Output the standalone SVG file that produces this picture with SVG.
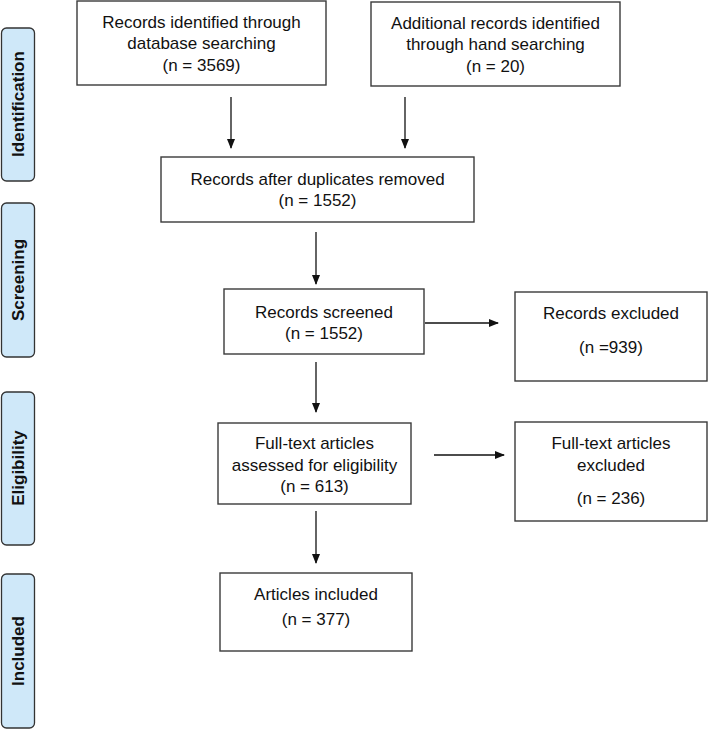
<svg xmlns="http://www.w3.org/2000/svg" width="708" height="729" viewBox="0 0 708 729">
<style>
.box{fill:#fff;stroke:#3a3a3a;stroke-width:1.4}
.side{fill:#cfe8f9;stroke:#333;stroke-width:1.3}
.t{font-family:"Liberation Sans",Arial,sans-serif;font-size:17px;fill:#111;text-anchor:middle}
.s{font-family:"Liberation Sans",Arial,sans-serif;font-size:17px;font-weight:bold;fill:#111;text-anchor:middle}
.c{stroke:#111;stroke-width:1.3;fill:none;marker-end:url(#ah)}
</style>
<defs>
<marker id="ah" markerWidth="10" markerHeight="8" refX="9" refY="4" orient="auto" markerUnits="userSpaceOnUse">
<path d="M0,0 L10,4 L0,8 Z" fill="#111"/>
</marker>
</defs>
<rect width="708" height="729" fill="#fff"/>
<g id="side-identification"><rect class="side" x="1.5" y="28" width="33" height="153" rx="5"/><text class="s" transform="translate(24,104) rotate(-90)">Identification</text></g>
<g id="side-screening"><rect class="side" x="1.5" y="203" width="33" height="154" rx="5"/><text class="s" transform="translate(24,280) rotate(-90)">Screening</text></g>
<g id="side-eligibility"><rect class="side" x="1.5" y="392" width="33" height="153" rx="5"/><text class="s" transform="translate(24,468) rotate(-90)">Eligibility</text></g>
<g id="side-included"><rect class="side" x="1.5" y="574" width="33" height="154" rx="5"/><text class="s" transform="translate(24,651) rotate(-90)">Included</text></g>
<g id="n-db"><rect class="box" x="77" y="1" width="249" height="84"/>
<text class="t" x="201.5" y="28">Records identified through</text><text class="t" x="201.5" y="49">database searching</text><text class="t" x="201.5" y="71">(n = 3569)</text></g>
<g id="n-hand"><rect class="box" x="371" y="2" width="249" height="84"/>
<text class="t" x="495.5" y="29">Additional records identified</text><text class="t" x="495.5" y="50">through hand searching</text><text class="t" x="495.5" y="72">(n = 20)</text></g>
<g id="n-dup"><rect class="box" x="161" y="157" width="313" height="65"/>
<text class="t" x="317.5" y="185">Records after duplicates removed</text><text class="t" x="317.5" y="206">(n = 1552)</text></g>
<g id="n-screened"><rect class="box" x="224" y="289" width="200" height="65"/>
<text class="t" x="324" y="318">Records screened</text><text class="t" x="324" y="339">(n = 1552)</text></g>
<g id="n-excl1"><rect class="box" x="515" y="292" width="192" height="89"/>
<text class="t" x="611" y="319">Records excluded</text><text class="t" x="611" y="353">(n =939)</text></g>
<g id="n-fulltext"><rect class="box" x="218" y="423" width="193" height="81"/>
<text class="t" x="314.5" y="449">Full-text articles</text><text class="t" x="314.5" y="471">assessed for eligibility</text><text class="t" x="314.5" y="492">(n = 613)</text></g>
<g id="n-excl2"><rect class="box" x="515" y="422" width="192" height="99"/>
<text class="t" x="611" y="449">Full-text articles</text><text class="t" x="611" y="471">excluded</text><text class="t" x="611" y="504">(n = 236)</text></g>
<g id="n-included"><rect class="box" x="220" y="573" width="192" height="78"/>
<text class="t" x="316" y="600">Articles included</text><text class="t" x="316" y="625">(n = 377)</text></g>
<g id="connectors">
<line class="c" x1="231" y1="97" x2="231" y2="148"/>
<line class="c" x1="405" y1="97" x2="405" y2="148"/>
<line class="c" x1="316" y1="232" x2="316" y2="284"/>
<line class="c" x1="425" y1="323" x2="498" y2="323"/>
<line class="c" x1="316" y1="362" x2="316" y2="412"/>
<line class="c" x1="434" y1="455" x2="504" y2="455"/>
<line class="c" x1="316" y1="511" x2="316" y2="563"/>
</g>
</svg>
